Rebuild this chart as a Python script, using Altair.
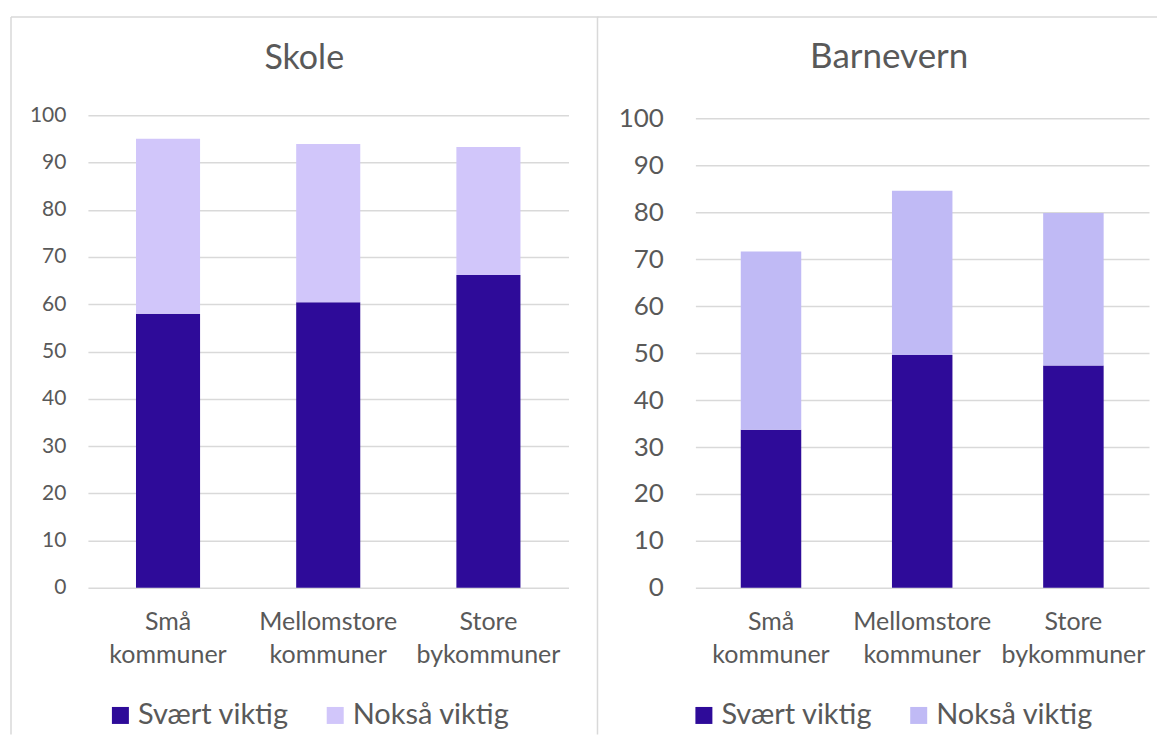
import altair as alt
import pandas as pd

categories = ["Små kommuner", "Mellomstore kommuner", "Store bykommuner"]
series = ["Svært viktig", "Nokså viktig"]
skole_svaert = [58.0, 60.4, 66.2]
skole_noksaa = [37.0, 33.5, 27.1]
barnevern_svaert = [33.7, 49.6, 47.4]
barnevern_noksaa = [38.0, 35.0, 32.5]
y_ticks = [0, 10, 20, 30, 40, 50, 60, 70, 80, 90, 100]

FONT = "Lato"
TXT = "#595959"
GRID = "#D9D9D9"
DARK = "#2E0B99"


def make_df(svaert, noksaa):
    rows = []
    for c, a, b in zip(categories, svaert, noksaa):
        rows.append({"kategori": c, "serie": series[0], "verdi": a, "rekke": 0})
        rows.append({"kategori": c, "serie": series[1], "verdi": b, "rekke": 1})
    return pd.DataFrame(rows)


def border(x=None, x2=None, y=None, y2=None):
    enc = {}
    if x is not None:
        enc["x"] = alt.value(x)
    if x2 is not None:
        enc["x2"] = alt.value(x2)
    if y is not None:
        enc["y"] = alt.value(y)
    if y2 is not None:
        enc["y2"] = alt.value(y2)
    return alt.Chart(pd.DataFrame({"k": [0]})).mark_rule(
        color=GRID, strokeWidth=1.5
    ).encode(**enc)


def panel(df, title, title_size, light, width, height, ymax, ylab_size,
          ylab_pad, title_dx, legend_x, borders):
    bars = alt.Chart(df).mark_bar().encode(
        x=alt.X(
            "kategori:N",
            sort=categories,
            scale=alt.Scale(paddingInner=0.6, paddingOuter=0.3),
            axis=alt.Axis(
                title=None, labelAngle=0, domain=False, ticks=False,
                labelExpr="split(datum.label, ' ')",
                labelFont=FONT, labelFontSize=25, labelColor=TXT,
                labelLineHeight=33, labelPadding=22, labelLimit=300,
            ),
        ),
        y=alt.Y(
            "verdi:Q",
            stack="zero",
            scale=alt.Scale(domain=[0, ymax], nice=False, zero=True),
            axis=alt.Axis(
                title=None, values=y_ticks, domain=False, ticks=False,
                grid=True, gridColor=GRID, gridWidth=1.5,
                labelFont=FONT, labelFontSize=ylab_size, labelColor=TXT,
                labelPadding=ylab_pad,
            ),
        ),
        color=alt.Color(
            "serie:N",
            scale=alt.Scale(domain=series, range=[DARK, light]),
            legend=alt.Legend(
                title=None, orient="none", direction="horizontal",
                legendX=legend_x, legendY=586,
                symbolType="square", symbolSize=289, symbolStrokeWidth=0,
                labelFont=FONT, labelFontSize=29, labelColor=TXT,
                labelOffset=3, columnPadding=32, labelLimit=300,
            ),
        ),
        order=alt.Order("rekke:Q", sort="ascending"),
    )
    layers = borders + [bars]
    return alt.layer(*layers).properties(
        width=width,
        height=height,
        title=alt.TitleParams(
            text=title, font=FONT, fontSize=title_size, fontWeight="normal",
            color=TXT, frame="group", anchor="middle", dx=title_dx,
            baseline="alphabetic", offset=-87,
        ),
    )


left = panel(
    make_df(skole_svaert, skole_noksaa), "Skole", 34, "#D1C6FA",
    481, 473, 100, 21, 22, -24, 18,
    [
        border(x=-77, y=-98.3, y2=619.7),
        border(x=-77, x2=511, y=-98.3),
        border(x=510, y=-98.3, y2=619.7),
    ],
)

right = panel(
    make_df(barnevern_svaert, barnevern_noksaa), "Barnevern", 35, "#C0BAF5",
    454, 473, 100.72, 26, 32, -33, -6,
    [
        border(x=-98, x2=462, y=-98.3),
    ],
)

chart = alt.hconcat(left, right, spacing=127, bounds="flush").resolve_scale(
    x="independent", y="independent", color="independent"
).properties(
    padding={"left": 2, "top": 7, "right": 0, "bottom": 0},
    background="white",
).configure_view(stroke=None)

chart.save("out.html", embed_options={"renderer": "svg", "actions": False})
